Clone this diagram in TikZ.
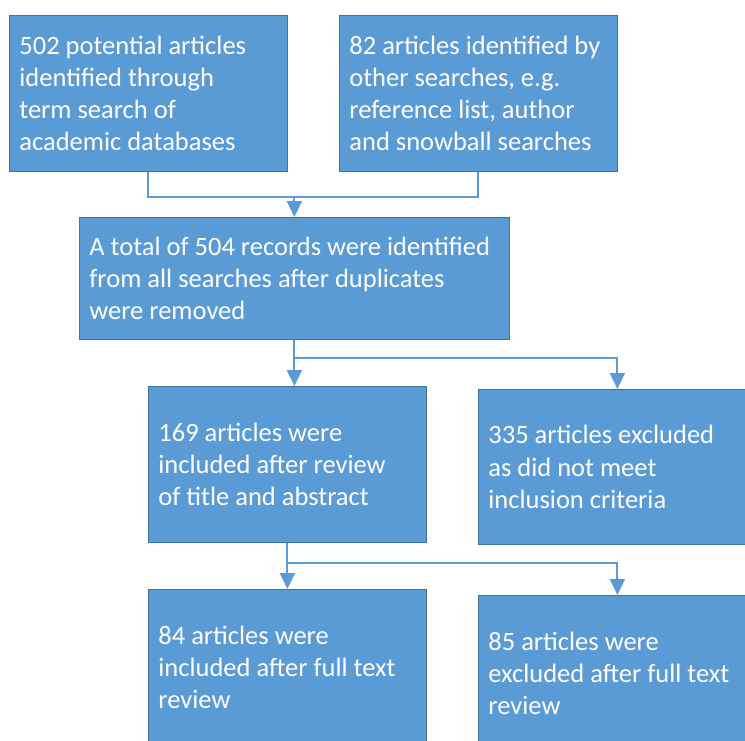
\documentclass[tikz,border=0pt]{standalone}
\usepackage{fontspec}
\setmainfont{Carlito}
\usepackage{tikz}
\usetikzlibrary{arrows.meta,calc,positioning}
\definecolor{boxblue}{HTML}{5B9BD5}
\definecolor{boxedge}{HTML}{41719C}
\tikzset{%
  >={Triangle[width=15pt,length=16pt]},
  % Specifications for style of nodes:
            base/.style = {rectangle, draw=boxedge, fill=boxblue, line width=0.8pt,
                           anchor=north west, inner xsep=10pt, inner ysep=0pt,
                           text width=#1, minimum height=156pt, align=flush left,
                           text=white, font=\fontsize{26.5}{32.3}\selectfont},
            base/.default = 258pt,
            link/.style = {draw=boxblue, line width=2pt}
                           }

\begin{document}
\begin{tikzpicture}[x=1pt, y=-1pt]
                    \useasboundingbox (0,0) rectangle (745,740);
                    \clip (0,0) rectangle (745,740);

                    \node (databases)   [base]                         at (9,15)    {502 potential articles\\identified through\\term search of\\academic databases};
                    \node (other)       [base]                         at (339,15)  {82 articles identified by\\other searches, e.g.\\reference list, author\\and snowball searches};
                    \node (total)       [base=410pt, minimum height=122pt] at (79,217)  {A total of 504 records were identified\\from all searches after duplicates\\were removed};
                    \node (screened)    [base]                         at (148,386) {169 articles were\\included after review\\of title and abstract};
                    \node (excluded)    [base, minimum height=155pt]   at (478,389) {335 articles excluded\\as did not meet\\inclusion criteria};
                    \node (included)    [base]                         at (148,589) {84 articles were\\included after full text\\review};
                    \node (fulltextout) [base]                         at (478,595) {85 articles were\\excluded after full text\\review};

                    \coordinate (join1) at ($(total.north)+(0,-20)$);
                    \coordinate (join2) at ($(total.south)+(0,18)$);
                    \coordinate (join3) at ($(screened.south)+(0,20)$);

                    \draw[link]     (databases.south) |- (join1) -| (other.south);
                    \draw[link,->]  (join1) -- (total.north);
                    \draw[link,->]  (total.south) -- (total.south |- screened.north);
                    \draw[link,->]  (join2) -| (excluded.north);
                    \draw[link,->]  (screened.south) -- (included.north);
                    \draw[link,->]  (join3) -| (fulltextout.north);
                \end{tikzpicture}
\end{document}
